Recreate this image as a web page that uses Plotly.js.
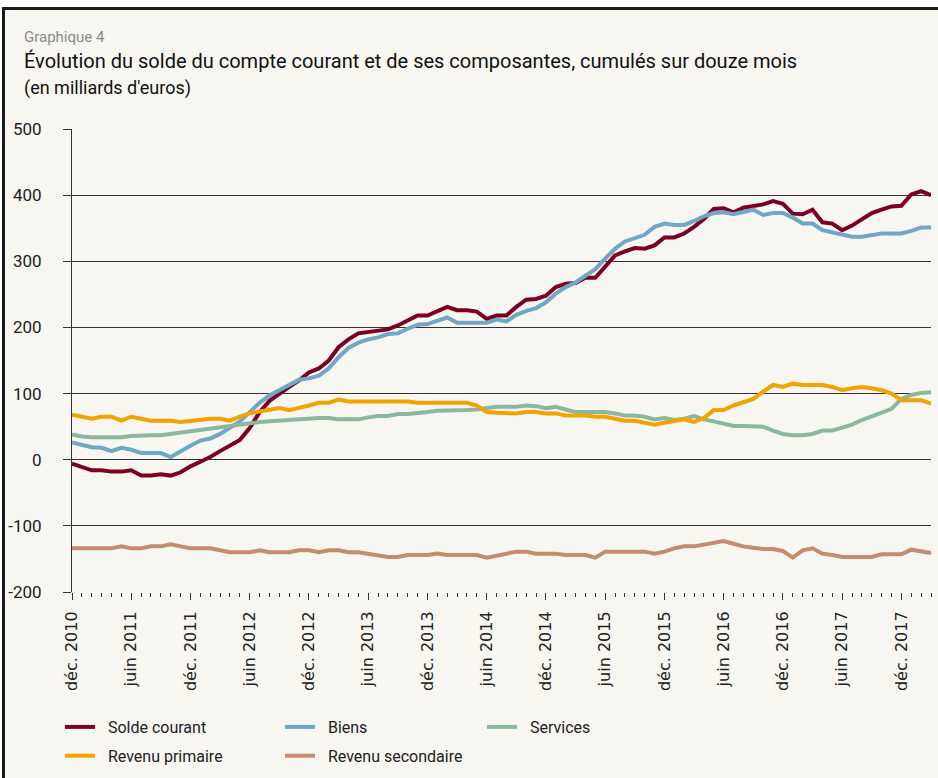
<!DOCTYPE html>
<html>
<head>
<meta charset="utf-8">
<script src="https://cdn.plot.ly/plotly-3.0.1.min.js"></script>
<style>
  html, body { margin: 0; padding: 0; background: #ffffff; }
  #frame { position: absolute; left: 2px; top: 7px; width: 940px; height: 775px;
           background: #f7f6f1; border-left: 3px solid #1a1a1a; border-top: 3px solid #1a1a1a; }
  #chart { position: absolute; left: 0; top: 0; width: 938px; height: 778px; }
</style>
</head>
<body>
<div id="frame"></div>
<div id="chart"></div>
<script>
// Monthly observations, déc. 2010 -> mars 2018 (12-month cumulated, bn EUR)
const nMonths = 88;

const soldeCourant = [
  -6, -11, -16, -16, -18, -18, -16, -24, -24, -22,
  -24, -19, -10, -3, 4, 13, 21, 30, 48, 72,
  89, 100, 110, 120, 132, 138, 150, 170, 182, 191,
  193, 194, 197, 203, 211, 218, 218, 225, 231, 226,
  226, 224, 213, 218, 218, 231, 242, 243, 248, 261,
  266, 267, 275, 275, 293, 309, 315, 320, 319, 324,
  336, 336, 342, 352, 364, 379, 380, 374, 381, 383,
  386, 391, 387, 372, 371, 378, 359, 357, 347, 354,
  364, 373, 378, 383, 384, 401, 406, 400
];
const biens = [
  26, 23, 19, 18, 13, 18, 15, 10, 10, 10,
  4, 13, 21, 29, 32, 39, 48, 58, 72, 86,
  97, 105, 114, 121, 123, 127, 138, 155, 169, 177,
  182, 185, 190, 191, 198, 204, 205, 210, 215, 207,
  207, 207, 207, 212, 209, 219, 225, 229, 238, 251,
  261, 268, 278, 288, 304, 319, 330, 335, 340, 352,
  357, 355, 355, 361, 368, 373, 374, 371, 375, 378,
  370, 373, 373, 366, 357, 357, 347, 344, 340, 337,
  337, 340, 342, 342, 342, 346, 351, 351
];
const services = [
  38, 35, 34, 34, 34, 34, 36, 37, 37, 37,
  39, 42, 43, 45, 47, 50, 52, 54, 56, 57,
  58, 59, 60, 62, 63, 63, 63, 61, 61, 61,
  64, 66, 66, 69, 69, 70, 72, 74, 74, 74,
  75, 76, 78, 80, 80, 80, 82, 81, 78, 80,
  76, 72, 72, 72, 72, 70, 67, 67, 65, 61,
  63, 60, 62, 66, 61, 58, 54, 51, 51, 51,
  50, 44, 39, 37, 37, 39, 44, 44, 49, 53,
  60, 65, 71, 77, 92, 98, 101, 102
];
const revenuPrimaire = [
  68, 65, 62, 65, 65, 59, 65, 62, 59, 59,
  59, 57, 59, 60, 62, 62, 59, 65, 70, 73,
  76, 78, 75, 78, 82, 86, 86, 91, 88, 88,
  88, 88, 88, 88, 88, 86, 86, 86, 86, 86,
  86, 82, 72, 71, 70, 70, 72, 72, 70, 70,
  67, 67, 67, 65, 65, 62, 59, 59, 56, 53,
  56, 58, 61, 57, 63, 75, 75, 82, 87, 92,
  103, 113, 110, 115, 113, 113, 113, 110, 105, 108,
  110, 108, 105, 100, 90, 90, 90, 85
];
const revenuSecondaire = [
  -134, -134, -134, -134, -134, -131, -134, -134, -131, -131,
  -128, -131, -134, -134, -134, -137, -140, -140, -140, -137,
  -140, -140, -140, -137, -137, -140, -137, -137, -140, -140,
  -142, -144, -147, -147, -144, -144, -144, -142, -144, -144,
  -144, -144, -148, -145, -142, -139, -139, -142, -142, -142,
  -144, -144, -144, -148, -139, -139, -139, -139, -139, -142,
  -139, -134, -131, -131, -128, -126, -123, -127, -131, -133,
  -135, -135, -138, -148, -137, -134, -142, -144, -147, -147,
  -147, -147, -143, -143, -143, -136, -138, -141
];

const tickPositions = [0, 6, 12, 18, 24, 30, 36, 42, 48, 54, 60, 66, 72, 78, 84];
const tickLabels = ["déc. 2010", "juin 2011", "déc. 2011", "juin 2012", "déc. 2012",
  "juin 2013", "déc. 2013", "juin 2014", "déc. 2014", "juin 2015", "déc. 2015",
  "juin 2016", "déc. 2016", "juin 2017", "déc. 2017"];
const yTicks = [-200, -100, 0, 100, 200, 300, 400, 500];
const yTickLabels = ["-200", "-100", "0", "100", "200", "300", "400", "500"];

const seriesNames = ["Solde courant", "Biens", "Services", "Revenu primaire", "Revenu secondaire"];
const seriesColors = ["#7d0022", "#6fa7c6", "#89b7a0", "#f2a300", "#c48b6d"];
const seriesData = [soldeCourant, biens, services, revenuPrimaire, revenuSecondaire];
const legendOf = ["legend", "legend2", "legend3", "legend", "legend2"];

const xIdx = soldeCourant.map((_, i) => i);

const traces = seriesData.map((vals, k) => ({
  type: "scatter",
  mode: "lines",
  name: "\u00a0\u00a0" + seriesNames[k],
  x: xIdx,
  y: vals,
  line: { color: seriesColors[k], width: 4 },
  legend: legendOf[k],
  legendgroup: "g" + k,
  hoverinfo: "skip"
}));

const W = 859, H = 463, L = 72, T = 129; // plot area in px
const px = v => (v - L) / W;
const py = v => (T + H - v) / H;
const cy = v => 1 - v / 778;

const legendBase = {
  orientation: "v",
  bgcolor: "rgba(0,0,0,0)",
  font: { family: "Roboto, sans-serif", size: 16, color: "#222" },
  xref: "paper", yref: "container",
  xanchor: "left", yanchor: "top",
  tracegroupgap: 5,
  itemclick: false, itemdoubleclick: false
};

const layout = {
  width: 938, height: 778,
  margin: { l: 72, r: 7, t: 129, b: 186, pad: 0 },
  paper_bgcolor: "rgba(0,0,0,0)",
  plot_bgcolor: "rgba(0,0,0,0)",
  showlegend: true,
  legend: Object.assign({}, legendBase, { x: px(60), y: cy(710) }),
  legend2: Object.assign({}, legendBase, { x: px(280), y: cy(710) }),
  legend3: Object.assign({}, legendBase, { x: px(482), y: cy(710) }),
  xaxis: {
    range: [0, nMonths - 1],
    tickmode: "array",
    tickvals: tickPositions,
    ticktext: tickLabels,
    tickangle: -90,
    ticks: "outside", ticklen: 7, tickcolor: "#333", tickwidth: 1,
    minor: { tickmode: "linear", tick0: 0, dtick: 1, ticks: "outside", ticklen: 4, tickcolor: "#333", tickwidth: 1 },
    showgrid: false, zeroline: false,
    showline: false,
    automargin: false,
    tickfont: { family: "DejaVu Sans, sans-serif", size: 16, color: "#222" },
    ticklabelstandoff: 5,
    fixedrange: true
  },
  yaxis: {
    range: [-200, 500],
    tickmode: "array",
    tickvals: yTicks,
    ticktext: yTickLabels,
    ticks: "outside", ticklen: 8, tickcolor: "#333", tickwidth: 1,
    showgrid: true, gridcolor: "#333", gridwidth: 1,
    zeroline: false,
    showline: true, linecolor: "#333", linewidth: 1,
    automargin: false,
    tickfont: { family: "Roboto, sans-serif", size: 17, color: "#222" },
    ticklabelstandoff: 18,
    fixedrange: true
  },
  annotations: [
    { text: "Graphique 4", xref: "paper", yref: "paper", x: px(22), y: py(37),
      xanchor: "left", yanchor: "middle", showarrow: false,
      font: { family: "Roboto, sans-serif", size: 15, color: "#8a8a8a" } },
    { text: "Évolution du solde du compte courant et de ses composantes, cumulés sur douze mois",
      xref: "paper", yref: "paper", x: px(22), y: py(61),
      xanchor: "left", yanchor: "middle", showarrow: false,
      font: { family: "Roboto, sans-serif", size: 20, color: "#111" } },
    { text: "(en milliards d'euros)", xref: "paper", yref: "paper", x: px(22), y: py(88),
      xanchor: "left", yanchor: "middle", showarrow: false,
      font: { family: "Roboto, sans-serif", size: 18, color: "#111" } }
  ]
};

Plotly.newPlot("chart", traces, layout, { displayModeBar: false, staticPlot: true });
</script>
</body>
</html>
